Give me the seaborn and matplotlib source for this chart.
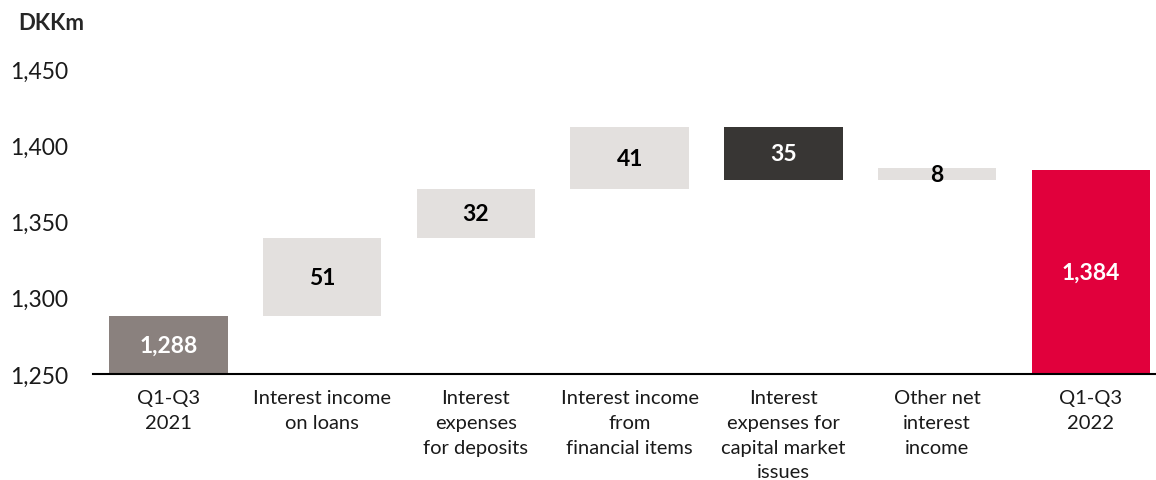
import numpy as np
import matplotlib
matplotlib.use("Agg")
import matplotlib.pyplot as plt
import seaborn as sns

categories = [
    "Q1-Q3\n2021",
    "Interest income\non loans",
    "Interest\nexpenses\nfor deposits",
    "Interest income\nfrom\nfinancial items",
    "Interest\nexpenses for\ncapital market\nissues",
    "Other net\ninterest\nincome",
    "Q1-Q3\n2022",
]
start_value = 1288
changes = [51, 32, 41, -35, 8]
end_value = 1384
value_labels = ["1,288", "51", "32", "41", "35", "8", "1,384"]
y_ticks = [1250, 1300, 1350, 1400, 1450]

bar_colors = ["#8a817e", "#e3e0de", "#e3e0de", "#e3e0de", "#383634", "#e3e0de", "#e1003c"]
text_colors = ["white", "black", "black", "black", "white", "black", "white"]

# Waterfall geometry: each step floats from the running total
running = start_value + np.concatenate([[0], np.cumsum(changes)])
bottoms = [0]
heights = [start_value]
for i, c in enumerate(changes):
    lo = min(running[i], running[i + 1])
    bottoms.append(lo)
    heights.append(abs(c))
bottoms.append(0)
heights.append(end_value)

sns.set_theme(style="white")
plt.rcParams["font.family"] = ["Lato", "DejaVu Sans"]

fig = plt.figure(figsize=(11.56, 4.81), dpi=100)
ax = fig.add_axes([0.0805, 0.2204, 0.919, 0.6341])

sns.barplot(x=list(range(len(categories))), y=heights, bottom=bottoms,
            color=bar_colors[0], width=0.77, saturation=1, ax=ax)
for patch, col in zip(ax.patches, bar_colors):
    patch.set_facecolor(col)
    patch.set_edgecolor("none")

ax.set_ylim(1250, 1450)
ax.set_xlim(-0.49, 6.42)
ax.set_yticks(y_ticks)
ax.set_yticklabels([f"{v:,}" for v in y_ticks], fontsize=16.5, color="#1a1a1a")
ax.set_xticks(range(len(categories)))
ax.set_xticklabels(categories, fontsize=14.5, color="#1a1a1a", linespacing=1.55, va="top")
ax.tick_params(axis="y", length=0, pad=18)
ax.tick_params(axis="x", length=0, pad=11)
ax.set_xlabel("")
ax.set_ylabel("")

for side in ["left", "right", "top"]:
    ax.spines[side].set_visible(False)
ax.spines["bottom"].set_color("black")
ax.spines["bottom"].set_linewidth(1.5)

for i, (b, h) in enumerate(zip(bottoms, heights)):
    lo = max(b, 1250)
    mid = (lo + b + h) / 2
    ax.text(i, mid, value_labels[i], ha="center", va="center",
            fontsize=16.5, fontweight="bold", color=text_colors[i])

fig.text(0.016, 0.952, "DKKm", fontsize=16, fontweight="bold", ha="left", va="center")

fig.savefig("out.png", dpi=100, facecolor="white")
